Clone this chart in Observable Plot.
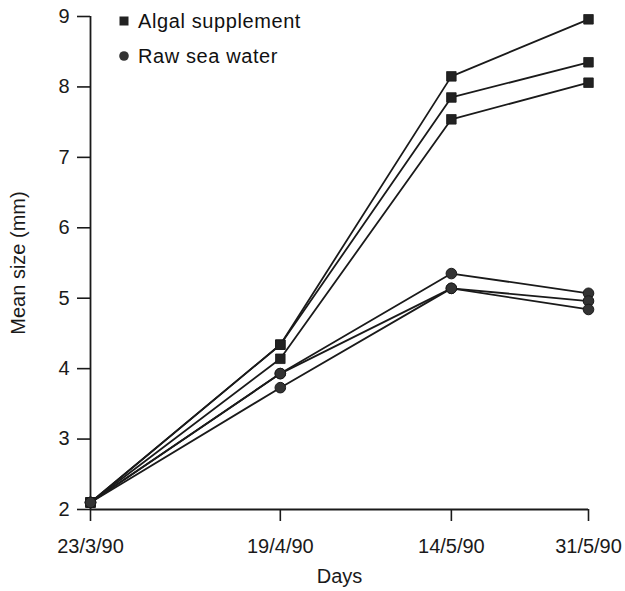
<!DOCTYPE html>
<html>
<head>
<meta charset="utf-8">
<script src="https://cdn.jsdelivr.net/npm/d3@7"></script>
<script src="https://cdn.jsdelivr.net/npm/@observablehq/plot@0.6"></script>
<style>
  html, body { margin: 0; padding: 0; background: #fff; }
  #wrap { position: relative; width: 625px; height: 591px; font-family: "Liberation Sans", Arial, Helvetica, sans-serif; }
  .leg { position: absolute; left: 118px; font-size: 20px; letter-spacing: 0.6px; color: #111; display: flex; align-items: center; white-space: nowrap; }
  .leg svg { margin-right: 8px; }
</style>
</head>
<body>
<div id="wrap"></div>
<script>
// Tick labels (dates) and their positions in days
const dateLabels = ["23/3/90", "19/4/90", "14/5/90", "31/5/90"];
const days = [0, 26.3, 50, 69];
const yTicks = [2, 3, 4, 5, 6, 7, 8, 9];

// Algal supplement replicates
const algal1 = [2.1, 4.34, 8.15, 8.96];
const algal2 = [2.1, 4.34, 7.85, 8.35];
const algal3 = [2.1, 4.14, 7.54, 8.06];
// Raw sea water replicates
const raw1 = [2.1, 3.93, 5.35, 5.07];
const raw2 = [2.1, 3.93, 5.14, 4.96];
const raw3 = [2.1, 3.73, 5.14, 4.84];

const seriesNames = ["Algal supplement", "Raw sea water"];
const replicates = [
  {group: seriesNames[0], id: "a1", vals: algal1},
  {group: seriesNames[0], id: "a2", vals: algal2},
  {group: seriesNames[0], id: "a3", vals: algal3},
  {group: seriesNames[1], id: "r1", vals: raw1},
  {group: seriesNames[1], id: "r2", vals: raw2},
  {group: seriesNames[1], id: "r3", vals: raw3}
];
const data = replicates.flatMap(r => r.vals.map((v, i) => ({group: r.group, id: r.id, day: days[i], size: v})));

const labelOf = new Map(days.map((d, i) => [d, dateLabels[i]]));
const ink = "#1a1a1a";

const chart = Plot.plot({
  width: 625,
  height: 591,
  marginLeft: 90,
  marginRight: 37,
  marginTop: 16,
  marginBottom: 82,
  style: {fontFamily: "'Liberation Sans', Arial, Helvetica, sans-serif", fontSize: "20px", color: ink, background: "white"},
  x: {domain: [0, 69]},
  y: {domain: [2, 9]},
  marks: [
    Plot.axisY({ticks: yTicks, tickFormat: d3.format("d"), tickSize: 13, tickPadding: 8, label: null, strokeWidth: 1.6}),
    Plot.axisX({ticks: days, tickFormat: d => labelOf.get(d), tickSize: 12, tickPadding: 17, label: null, strokeWidth: 1.6}),
    Plot.ruleX([0], {stroke: ink, strokeWidth: 1.8}),
    Plot.ruleY([2], {stroke: ink, strokeWidth: 1.8}),
    Plot.line(data, {x: "day", y: "size", z: "id", stroke: ink, strokeWidth: 1.8}),
    Plot.dot(data.filter(d => d.group === seriesNames[0]), {x: "day", y: "size", symbol: "square", r: 5.4, fill: "#222", stroke: ink, strokeWidth: 0.8}),
    Plot.dot(data.filter(d => d.group === seriesNames[1]), {x: "day", y: "size", symbol: "circle", r: 5.3, fill: "#333", stroke: ink, strokeWidth: 1}),
    Plot.text(["Days"], {frameAnchor: "bottom", dy: 73, fontSize: 20, fill: ink}),
    Plot.text(["Mean size (mm)"], {frameAnchor: "left", dx: -72, rotate: -90, textAnchor: "middle", fontSize: 20, fill: ink})
  ]
});

const wrap = document.getElementById("wrap");
wrap.appendChild(chart);

// Legend overlay (top-left inside the frame)
const legendItems = [
  {name: seriesNames[0], shape: "square", top: 9},
  {name: seriesNames[1], shape: "circle", top: 44}
];
for (const it of legendItems) {
  const div = document.createElement("div");
  div.className = "leg";
  div.style.top = it.top + "px";
  const sym = it.shape === "square"
    ? '<svg width="12" height="24"><rect x="1.5" y="7.5" width="9" height="9" fill="#222"/></svg>'
    : '<svg width="12" height="24"><circle cx="6" cy="12" r="4.8" fill="#333"/></svg>';
  div.innerHTML = sym + "<span>" + it.name + "</span>";
  wrap.appendChild(div);
}
</script>
</body>
</html>
